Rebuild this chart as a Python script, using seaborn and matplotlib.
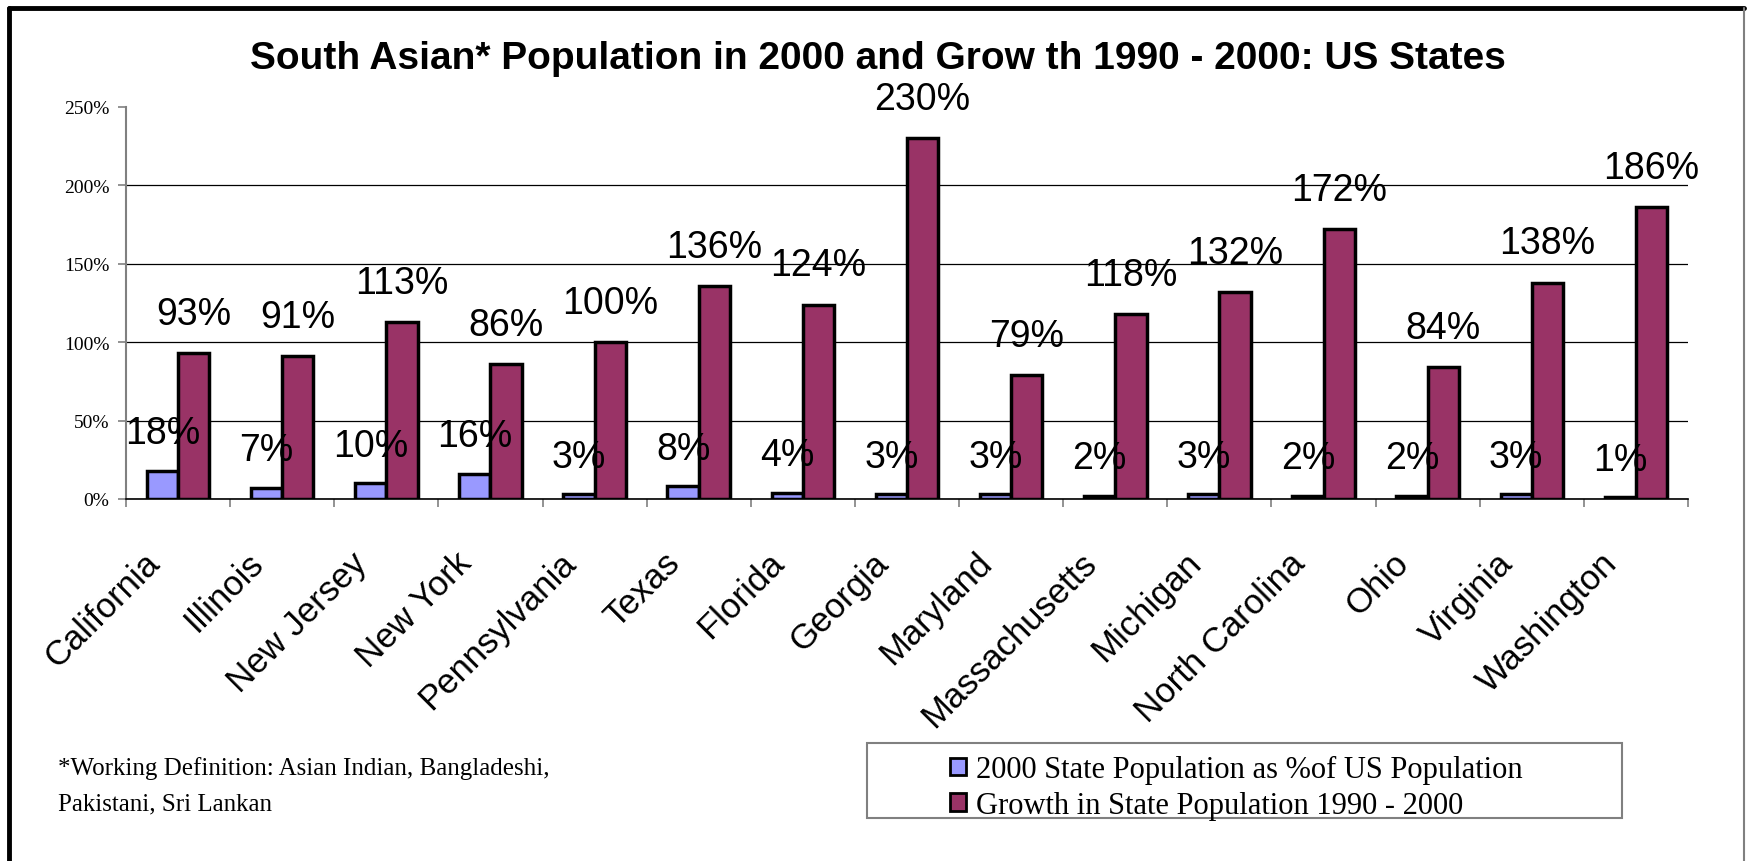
import numpy as np
import pandas as pd
import seaborn as sns
import matplotlib.pyplot as plt
from matplotlib.lines import Line2D
from matplotlib.patches import Rectangle
from matplotlib.ticker import PercentFormatter
from matplotlib.transforms import ScaledTranslation

states = ["California", "Illinois", "New Jersey", "New York", "Pennsylvania",
          "Texas", "Florida", "Georgia", "Maryland", "Massachusetts",
          "Michigan", "North Carolina", "Ohio", "Virginia", "Washington"]
share_2000 = [18, 7, 10, 16, 3, 8, 4, 3, 3, 2, 3, 2, 2, 3, 1]
growth_90_00 = [93, 91, 113, 86, 100, 136, 124, 230, 79, 118, 132, 172, 84, 138, 186]
series_names = ["2000 State Population as %of US Population",
                "Growth in State Population 1990 - 2000"]
colors = ["#9999FF", "#993366"]

df = pd.DataFrame({
    "state": states * 2,
    "value": share_2000 + growth_90_00,
    "series": [series_names[0]] * len(states) + [series_names[1]] * len(states),
})

sns.set_theme(style="white")
plt.rcParams["font.family"] = ["Liberation Sans", "DejaVu Sans"]
plt.rcParams["text.color"] = "black"
plt.rcParams["xtick.color"] = "black"
plt.rcParams["ytick.color"] = "black"

W, H = 1747, 862
fig = plt.figure(figsize=(W / 100, H / 100), dpi=100)
ax = fig.add_axes([126 / W, 1 - 500 / H, (1688 - 126) / W, (500 - 108) / H])

sns.barplot(data=df, x="state", y="value", hue="series", palette=colors,
            saturation=1, width=0.6, edgecolor="black", linewidth=2.5,
            legend=False, ax=ax)

# value labels above each bar
for cont, vals, off in zip(ax.containers, [share_2000, growth_90_00], [20, 21]):
    for bar, v in zip(cont, vals):
        ax.annotate(f"{v}%", (bar.get_x() + bar.get_width() / 2, bar.get_height()),
                    xytext=(0, off), textcoords="offset points",
                    ha="center", va="baseline", fontsize=27, color="black")

ax.set_ylim(0, 250)
ax.set_xlim(-0.5, len(states) - 0.5)
ax.set_yticks([0, 50, 100, 150, 200, 250])
ax.yaxis.set_major_formatter(PercentFormatter(decimals=0))
ax.set_xlabel("")
ax.set_ylabel("")

ax.yaxis.grid(True, color="black", lw=0.9)
ax.get_ygridlines()[-1].set_visible(False)
ax.set_axisbelow(True)

for s in ["top", "right"]:
    ax.spines[s].set_visible(False)
ax.spines["left"].set_color("#808080")
ax.spines["left"].set_linewidth(1.5)
ax.spines["bottom"].set_color("black")
ax.spines["bottom"].set_linewidth(1.2)

ax.tick_params(axis="y", direction="out", length=6, width=1.2, color="#808080",
               left=True, pad=6)
for t in ax.get_yticklabels():
    t.set_family("Liberation Serif")
    t.set_fontsize(14)

ax.set_xticks(np.arange(len(states)))
ax.set_xticklabels(states, rotation=45, ha="right", va="center",
                   rotation_mode="anchor", fontsize=25)
ax.tick_params(axis="x", which="major", length=0, pad=42)
ax.set_xticks(np.arange(-0.5, len(states), 1), minor=True)
ax.tick_params(axis="x", which="minor", direction="out", length=6, width=1.2,
               color="#808080", bottom=True)
shift = ScaledTranslation(-24 / 100, 0, fig.dpi_scale_trans)
for t in ax.get_xticklabels():
    t.set_transform(t.get_transform() + shift)

fig.text(878 / W, 1 - 59 / H,
         "South Asian* Population in 2000 and Grow th 1990 - 2000: US States",
         ha="center", va="center", fontsize=28, fontweight="bold")

fig.text(58 / W, 1 - 769 / H, "*Working Definition: Asian Indian, Bangladeshi,",
         ha="left", va="center", fontsize=18, family="Liberation Serif")
fig.text(58 / W, 1 - 804 / H, "Pakistani, Sri Lankan",
         ha="left", va="center", fontsize=18, family="Liberation Serif")

# legend box and entries
fig.add_artist(Rectangle((867 / W, 1 - 819 / H), (1622 - 867) / W, 75 / H,
                         transform=fig.transFigure, fill=False,
                         edgecolor="#808080", lw=1.5))
handles = [Rectangle((0, 0), 1, 1, facecolor=c, edgecolor="black", lw=2)
           for c in colors]
fig.legend(handles, series_names, loc="upper left",
           bbox_to_anchor=(935 / W, 1 - 741 / H), frameon=False,
           prop={"family": "Liberation Serif", "size": 22},
           handlelength=0.5, handleheight=0.5, handletextpad=0.35,
           labelspacing=0.22, borderpad=0)

# outer chart border
fig.add_artist(Line2D([9 / W, 9 / W], [0, 1 - 9 / H], transform=fig.transFigure,
                      color="black", lw=3.5))
fig.add_artist(Line2D([9 / W, 1744 / W], [1 - 9 / H, 1 - 9 / H],
                      transform=fig.transFigure, color="black", lw=3.5))
fig.add_artist(Line2D([1744 / W, 1744 / W], [0, 1 - 9 / H],
                      transform=fig.transFigure, color="#808080", lw=1.5))

fig.savefig("out.png", dpi=100)
